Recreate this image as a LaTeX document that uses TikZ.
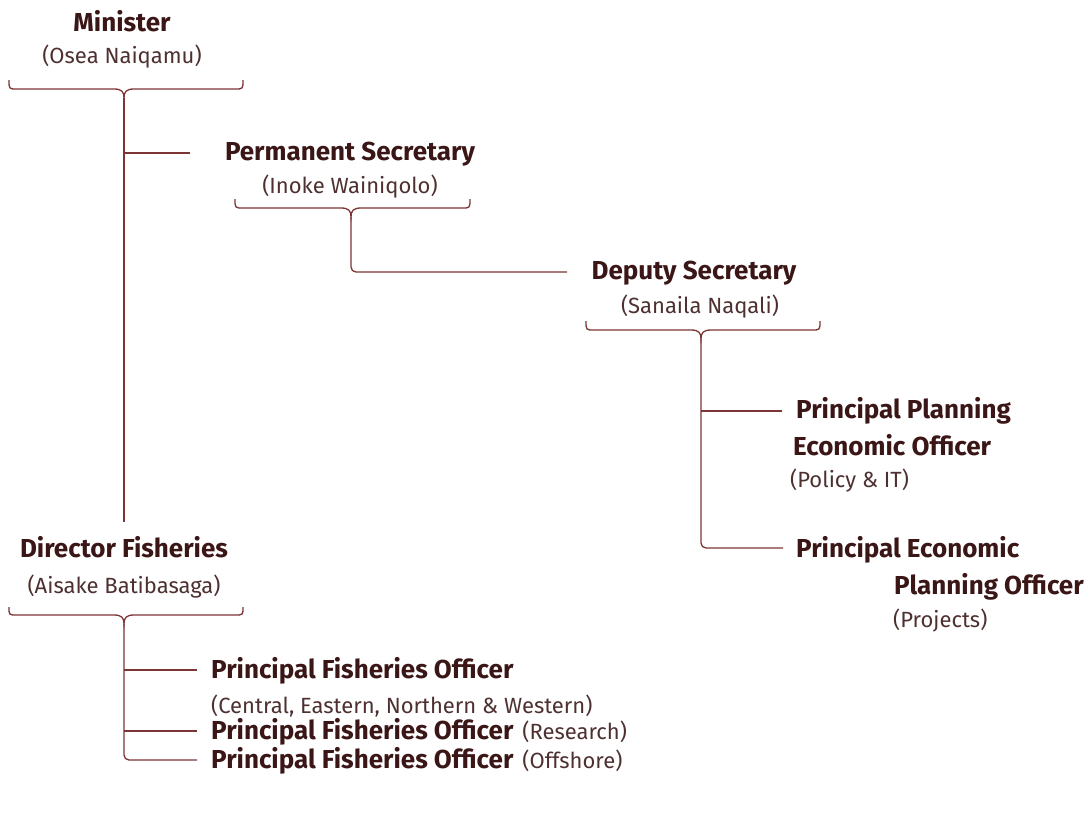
\documentclass[tikz,border=0pt]{standalone}
\usepackage{fontspec}
\setmainfont{Fira Sans}
\definecolor{linecol}{HTML}{7D3434}
\definecolor{titlecol}{HTML}{3B1616}
\definecolor{subcol}{HTML}{4E3030}
\newcommand{\curlybrace}[5]{% left x, right x, end y, bar y, tip x
  \draw[orgline] (#1,#3) .. controls (#1,#4) .. ({#1+8},#4) -- ({#5-10},#4)
    .. controls ({#5-2},#4) and (#5,{#4+3}) .. (#5,{#4+9})
    .. controls (#5,{#4+3}) and ({#5+2},#4) .. ({#5+10},#4) -- ({#2-8},#4)
    .. controls (#2,#4) .. (#2,#3);}
\newcommand{\titlefont}{\fontsize{26}{30}\selectfont\bfseries}
\newcommand{\subfont}{\fontsize{22}{26}\selectfont}
\begin{document}
\begin{tikzpicture}[x=1pt,y=-1pt,
  orgline/.style={draw=linecol,line width=1.3pt},
  title/.style={inner sep=0pt,text=titlecol,font=\titlefont},
  sub/.style={inner sep=0pt,text=subcol,font=\subfont}]
\useasboundingbox (0,0) rectangle (1092,831);

% Minister
\node[title,anchor=base] (min) at (122,31) {Minister};
\node[sub,anchor=base] (minsub) at (122,63) {(Osea Naiqamu)};
\curlybrace{9}{243}{80}{89}{124}
\coordinate (mtip) at (124,98);

% Permanent Secretary
\node[title,anchor=base] (ps) at (350,160) {Permanent Secretary};
\node[sub,anchor=base] (pssub) at (350,193) {(Inoke Wainiqolo)};
\curlybrace{235}{470}{199}{208}{351}
\coordinate (pstip) at (351,217);

% Deputy Secretary
\node[title,anchor=base] (ds) at (694,279) {Deputy Secretary};
\node[sub,anchor=base] (dssub) at (700,313) {(Sanaila Naqali)};
\curlybrace{586}{820}{321}{330}{701}
\coordinate (dstip) at (701,339);

% Planning officers under the Deputy Secretary
\node[title,anchor=base west] (ppeo) at (796,418) {Principal Planning};
\node[title,anchor=base west] (ppeo2) at (793,455) {Economic Officer};
\node[sub,anchor=base west] (ppeosub) at (790,487) {(Policy \& IT)};
\node[title,anchor=base west] (pepo) at (796,557) {Principal Economic};
\node[title,anchor=base west] (pepo2) at (894,594) {Planning Officer};
\node[sub,anchor=base west] (peposub) at (893,627) {(Projects)};

% Director Fisheries
\node[title,anchor=base] (df) at (124,557) {Director Fisheries};
\node[sub,anchor=base] (dfsub) at (124,593) {(Aisake Batibasaga)};
\curlybrace{9}{243}{607}{615}{124}
\coordinate (dftip) at (124,624);
\coordinate (dfin) at (124,522);

% Fisheries officers under the Director
\node[title,anchor=base west] (pfo1) at (211,678) {Principal Fisheries Officer};
\node[sub,anchor=base west] (pfo1sub) at (211,713) {(Central, Eastern, Northern \& Western)};
\node[anchor=base west,inner sep=0pt] (pfo2) at (211,739)
  {\textcolor{titlecol}{\titlefont Principal Fisheries Officer}\hspace{9pt}\textcolor{subcol}{\subfont(Research)}};
\node[anchor=base west,inner sep=0pt] (pfo3) at (211,768)
  {\textcolor{titlecol}{\titlefont Principal Fisheries Officer}\hspace{9pt}\textcolor{subcol}{\subfont(Offshore)}};

% Connectors
\draw[orgline] (mtip) -- (dfin);
\draw[orgline] (124,153) -- (190,153) coordinate (psend);
\draw[orgline,rounded corners=5pt] (pstip) -- (351,272) -- (567,272) coordinate (dsend);
\draw[orgline] (701,411) -- (782,411) coordinate (ppeoend);
\draw[orgline,rounded corners=5pt] (dstip) -- (701,548) -- (783,548) coordinate (pepoend);
\draw[orgline] (124,670) -- (197,670) coordinate (pfo1end);
\draw[orgline] (124,731) -- (197,731) coordinate (pfo2end);
\draw[orgline,rounded corners=5pt] (dftip) -- (124,760) -- (197,760) coordinate (pfo3end);
\end{tikzpicture}
\end{document}
